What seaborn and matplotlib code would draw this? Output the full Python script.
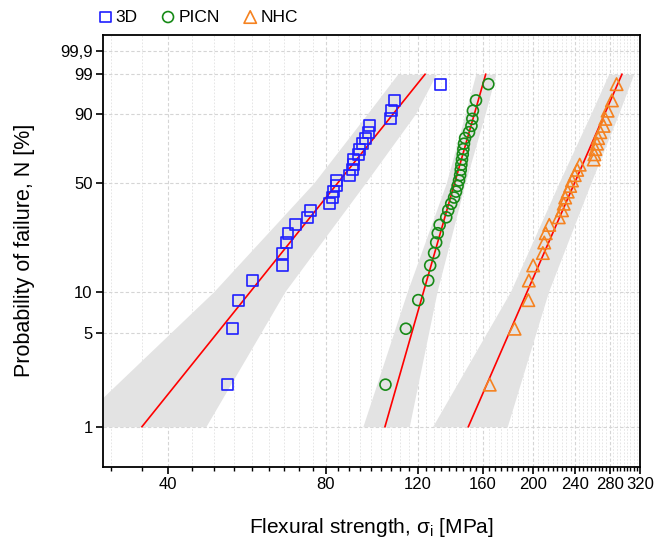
import numpy as np
import pandas as pd
import seaborn as sns
import matplotlib.pyplot as plt
from matplotlib.ticker import FixedLocator, NullLocator, NullFormatter, FixedFormatter

plt.rcParams['font.family'] = ['Liberation Sans', 'DejaVu Sans']

# --- data ---
groups = ['3D', 'PICN', 'NHC']
colors = ['#1f1fff', '#178a17', '#f58220']
markers = ['s', 'o', '^']

strength_3d = [51.9, 53.2, 54.6, 58.0, 66.3, 66.3, 67.3, 67.8, 70.1, 73.9,
               74.9, 81.4, 82.5, 82.8, 83.9, 83.9, 88.9, 90.1, 90.5, 90.5,
               92.5, 92.9, 94.1, 95.4, 96.6, 97.0, 106.4, 106.9, 108.3, 132.6]
strength_picn = [104.2, 114.0, 120.4, 125.8, 126.9, 129.1, 130.3, 131.2, 132.3, 136.2,
                 137.4, 139.2, 141.0, 142.2, 143.2, 144.1, 144.8, 145.2, 145.6, 146.0,
                 146.5, 146.9, 147.3, 148.0, 150.6, 152.2, 152.8, 153.2, 155.3, 164.0]
strength_nhc = [165.0, 184.1, 195.6, 196.0, 199.8, 208.5, 209.8, 211.2, 214.5, 223.7,
                226.9, 228.6, 230.1, 232.7, 235.2, 237.1, 240.0, 242.6, 245.3, 260.9,
                261.7, 262.9, 264.7, 266.1, 268.7, 272.6, 274.6, 277.4, 282.7, 288.6]

# Weibull modulus and characteristic strength of the red fit lines
weibull_m = [4.91, 13.8, 9.05]
weibull_s0 = [90.9, 145.1, 249.6]

# confidence band edges (MPa) at these failure probabilities (%)
band_levels = [1, 10, 50, 90, 99]
band_lo = [[26.2, 48.9, 75.9, 96.1, 109.9],
           [94.3, 114.7, 136.2, 148.0, 155.1],
           [128.2, 180.8, 223.7, 257.5, 278.6]]
band_hi = [[47.2, 66.9, 95.3, 118.8, 130.3],
           [115.7, 130.8, 148.0, 161.6, 169.4],
           [178.2, 213.8, 257.5, 291.1, 311.0]]

y_ticks = [1, 5, 10, 50, 90, 99, 99.9]
y_ticklabels = ['1', '5', '10', '50', '90', '99', '99,9']
x_ticks = [40, 80, 120, 160, 200, 240, 280, 320]


def weibull_fwd(p):
    p = np.clip(np.asarray(p, dtype=float), 1e-9, 100 - 1e-9)
    return np.log(-np.log(1 - p / 100))


def weibull_inv(u):
    return 100 * (1 - np.exp(-np.exp(np.asarray(u, dtype=float))))


# long table with plotting positions (Blom)
rows = []
for g, vals in zip(groups, [strength_3d, strength_picn, strength_nhc]):
    vals = np.sort(vals)
    n = len(vals)
    for i, v in enumerate(vals, start=1):
        rows.append({'group': g, 'strength': v, 'prob': (i - 0.375) / (n + 0.25) * 100})
df = pd.DataFrame(rows)

fig = plt.figure(figsize=(6.59, 5.46), dpi=100)
ax = fig.add_axes([0.1563, 0.1452, 0.8149, 0.7907])
ax.set_xscale('log')
ax.set_yscale('function', functions=(weibull_fwd, weibull_inv))

# confidence bands
for k in range(3):
    ax.fill_betweenx(band_levels, band_lo[k], band_hi[k], color='#e3e3e3',
                     lw=0, zorder=1)

# fit lines
for k in range(3):
    F = np.array([1, 99])
    s = weibull_s0[k] * (-np.log(1 - F / 100)) ** (1 / weibull_m[k])
    sns.lineplot(x=s, y=F, color='red', lw=1.2, ax=ax, zorder=3,
                 estimator=None, label='_nolegend_')

# points
for g, c, mk in zip(groups, colors, markers):
    sub = df[df['group'] == g]
    size = 80 if mk == '^' else 62
    sns.scatterplot(data=sub, x='strength', y='prob', marker=mk, s=size,
                    facecolors='none', edgecolor=c, linewidth=1.2,
                    ax=ax, zorder=4, label=g)

ax.set_xlim(30, 320)
ax.set_ylim(0.5, 99.989)

ax.xaxis.set_major_locator(FixedLocator(x_ticks))
ax.xaxis.set_major_formatter(FixedFormatter([str(t) for t in x_ticks]))
minor = [v for v in np.arange(40 / 9 * 7, 320.01, 40 / 9) if abs(v / 40 - round(v / 40)) > 1e-6]
ax.xaxis.set_minor_locator(FixedLocator(minor))
ax.xaxis.set_minor_formatter(NullFormatter())
ax.yaxis.set_major_locator(FixedLocator(y_ticks))
ax.yaxis.set_major_formatter(FixedFormatter(y_ticklabels))
ax.yaxis.set_minor_locator(NullLocator())

ax.grid(True, which='major', color='#d5d5d5', ls=(0, (3, 2)), lw=0.8)
ax.grid(True, which='minor', axis='x', color='#e2e2e2', ls=(0, (2, 2)), lw=0.6)
ax.set_axisbelow(True)

ax.tick_params(which='major', direction='out', length=5, width=1.2, pad=2.5, labelsize=12)
ax.tick_params(which='minor', direction='out', length=3, width=1.0)
for sp in ax.spines.values():
    sp.set_linewidth(1.3)

ax.set_xlabel('Flexural strength, σ$_\\mathregular{i}$ [MPa]', fontsize=15, labelpad=17)
ax.set_ylabel('Probability of failure, N [%]', fontsize=15.5, labelpad=18)

h, l = ax.get_legend_handles_labels()
ax.legend(h, l, loc='lower left', bbox_to_anchor=(-0.03, 1.0), ncol=3, frameon=False,
          fontsize=12.5, handletextpad=0.15, columnspacing=1.3, handlelength=0.9,
          borderaxespad=0.2)

fig.savefig('out.png', dpi=100)
